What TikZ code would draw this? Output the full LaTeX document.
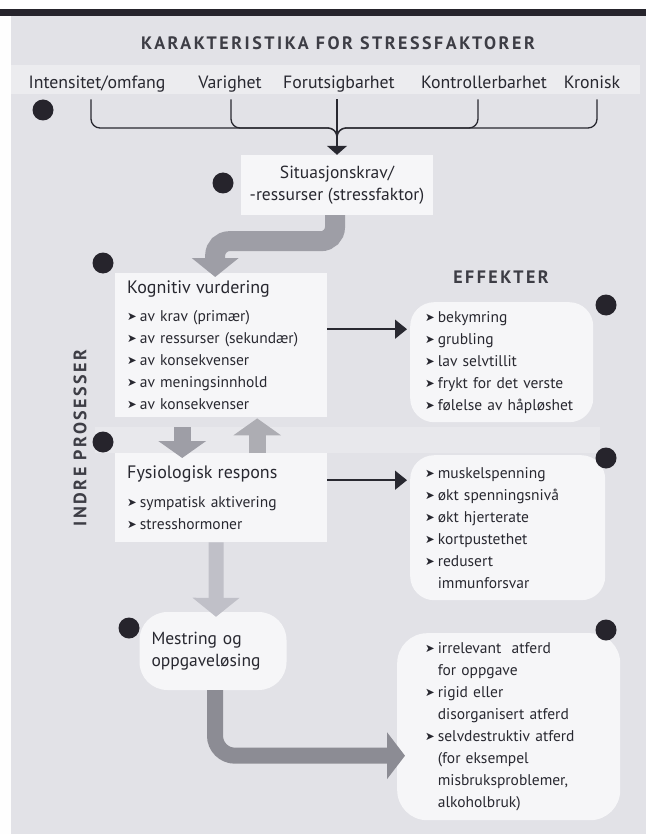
\documentclass[tikz,border=0pt]{standalone}
\usepackage{fontspec}
\setmainfont{PT Sans}
\newfontfamily\sperrfont{PT Sans}[LetterSpace=14]
\newfontfamily\symfont{DejaVu Sans}
\usepackage{xcolor}
\usetikzlibrary{arrows.meta,positioning}

\definecolor{bakgrunn}{RGB}{226,226,231}
\definecolor{lysband}{RGB}{236,236,239}
\definecolor{lysboks}{RGB}{246,246,248}
\definecolor{tekst}{RGB}{40,40,48}
\definecolor{hullfarge}{RGB}{38,36,44}
\definecolor{pilmork}{RGB}{140,140,148}
\definecolor{pilmid}{RGB}{158,158,166}
\definecolor{pillys}{RGB}{192,192,200}

\newcommand{\pil}{{\symfont\fontsize{11.5}{11}\selectfont\raisebox{0.5pt}{➤}}\hspace{3pt}}
\newcommand{\inn}{\phantom{\pil}}

\tikzset{
  hull/.style={circle, fill=hullfarge, minimum size=21pt, inner sep=0pt},
  overskrift/.style={font=\sperrfont\bfseries\fontsize{18}{20}\selectfont, text=tekst!90},
  faktor/.style={font=\fontsize{17.8}{20}\selectfont, text height=12.5pt, text depth=4pt, inner xsep=0pt, inner ysep=7pt},
  klamme/.style={draw=tekst, line width=1.3pt, rounded corners=9pt},
  hvitboks/.style={fill=lysboks, inner ysep=0pt},
  punkter/.style={hvitboks, align=left, font=\fontsize{15.5}{22}\selectfont},
  tynnpil/.style={draw=tekst, line width=1.5pt, -{Triangle[width=19pt,length=12pt]}},
  grovpil/.style={line cap=butt}
}

\begin{document}
\begin{tikzpicture}[x=1pt, y=-1pt, text=tekst]
% bakgrunn
\fill[bakgrunn] (0,0) rectangle (646,834);
\fill[white] (0,0) rectangle (646,9);
\fill[hullfarge] (0,9) rectangle (646,16);
\fill[white!96!bakgrunn] (0,16) rectangle (11,834);
\fill[lysband] (11,65) rectangle (640,94);
\fill[lysband!60!bakgrunn] (95,427) rectangle (600,453);

\node[overskrift] (tittel) at (338,43) {KARAKTERISTIKA FOR STRESSFAKTORER};

\node[faktor] (i1) at (97,84) {Intensitet/omfang};
\node[faktor] (i2) at (230,84) {Varighet};
\node[faktor] (i3) at (339,84) {Forutsigbarhet};
\node[faktor] (i4) at (484,84) {Kontrollerbarhet};
\node[faktor] (i5) at (592,84) {Kronisk};

\node[hvitboks, minimum width=192pt, minimum height=60pt, align=center,
      font=\fontsize{17.5}{22}\selectfont] (sit) at (337,185) {Situasjonskrav/\\-ressurser (stressfaktor)};

\node[overskrift, rotate=90] (indre) at (80,438) {INDRE PROSESSER};
\node[overskrift] (eff) at (501,277) {EFFEKTER};

\node[punkter, anchor=north west, minimum width=212pt, minimum height=144pt,
      text width=188pt, inner xsep=12pt] (kog) at (115,273)
  {{\fontsize{18}{20}\selectfont Kognitiv vurdering}\\[5.5pt]
   \pil av krav (primær)\\
   \pil av ressurser (sekundær)\\
   \pil av konsekvenser\\
   \pil av meningsinnhold\\
   \pil av konsekvenser};

\node[punkter, anchor=north west, minimum width=212pt, minimum height=89pt,
      text width=188pt, inner xsep=12pt] (fys) at (115,453)
  {{\fontsize{18}{20}\selectfont Fysiologisk respons}\\[7pt]
   \pil sympatisk aktivering\\
   \pil stresshormoner};

\node[hvitboks, rounded corners=28pt, minimum height=78pt, text width=123pt,
      inner xsep=12pt, align=left, font=\fontsize{17.5}{22}\selectfont] (mest) at (213,651)
  {Mestring og\\oppgaveløsing};

\node[punkter, rounded corners=24pt, anchor=north west, minimum height=120pt,
      text width=153pt, inner xsep=15pt] (eff1) at (410,302)
  {\pil bekymring\\
   \pil grubling\\
   \pil lav selvtillit\\
   \pil frykt for det verste\\
   \pil følelse av håpløshet};

\node[punkter, rounded corners=24pt, anchor=north west, minimum height=145pt,
      text width=165pt, inner xsep=15pt] (eff2) at (410,455)
  {\pil muskelspenning\\
   \pil økt spenningsnivå\\
   \pil økt hjerterate\\
   \pil kortpustethet\\
   \pil redusert\\
   \inn immunforsvar};

\node[punkter, rounded corners=30pt, anchor=north west, minimum height=187pt,
      text width=167pt, inner xsep=28pt] (eff3) at (397,633)
  {\pil irrelevant\ \ atferd\\
   \inn for oppgave\\
   \pil rigid eller\\
   \inn disorganisert atferd\\
   \pil selvdestruktiv atferd\\
   \inn (for eksempel\\
   \inn misbruksproblemer,\\
   \inn alkoholbruk)};

% klamme
\coordinate (samle) at (337,128);
\draw[klamme] ([xshift=-6pt]i1.south) |- (samle) -- ++(0,12);
\draw[klamme] ([xshift=1pt]i2.south) |- (samle) -- ++(0,12);
\draw[klamme] ([xshift=-6pt]i4.south) |- (samle) -- ++(0,12);
\draw[klamme] ([xshift=5pt]i5.south) |- (samle) -- ++(0,12);
\draw[klamme, -{Triangle[width=20pt,length=9pt]}] ([xshift=-2pt]i3.south) -- (sit.north);

% grove piler
\draw[grovpil, draw=pilmid, line width=20pt, rounded corners=14pt, shorten >=-4pt,
      -{Triangle[width=46pt,length=19pt]}] ([xshift=-2pt]sit.south) -- ++(0,26) -| ([xshift=-6pt]kog.north);
\draw[grovpil, draw=pilmid, line width=17pt, shorten <=10pt, shorten >=-5pt,
      -{Triangle[width=47pt,length=17pt]}] ([xshift=-39pt]kog.south) -- ([xshift=-39pt]fys.north);
\draw[grovpil, draw=pilmid!85, line width=17pt, shorten >=1pt,
      -{Triangle[width=47pt,length=17pt]}] ([xshift=36pt]fys.north) -- ([xshift=36pt]kog.south);
\draw[grovpil, draw=pillys, line width=15pt, shorten >=-5pt,
      -{Triangle[width=46pt,length=19pt]}] ([xshift=-5pt]fys.south) -- ([xshift=3pt]mest.north);
\draw[grovpil, draw=pilmork, line width=16pt, rounded corners=20pt, shorten >=-8pt,
      -{Triangle[width=46pt,length=18pt]}] ([xshift=2pt]mest.south) |- ([yshift=-29pt]eff3.west);

% tynne piler
\draw[tynnpil, shorten >=3pt] ([yshift=16pt]kog.east) -- ([yshift=16pt]kog.east -| eff1.west);
\draw[tynnpil, shorten >=3pt] ([yshift=17.5pt]fys.east) -- ([yshift=17.5pt]fys.east -| eff2.west);

% hull
\node[hull] (h1) at (43,110) {};
\node[hull] (h2) at (223,183) {};
\node[hull] (h3) at (103,263) {};
\node[hull] (h4) at (103,442) {};
\node[hull] (h5) at (606,305) {};
\node[hull] (h6) at (606,458) {};
\node[hull] (h7) at (129,628) {};
\node[hull] (h8) at (606,630) {};
\end{tikzpicture}
\end{document}
